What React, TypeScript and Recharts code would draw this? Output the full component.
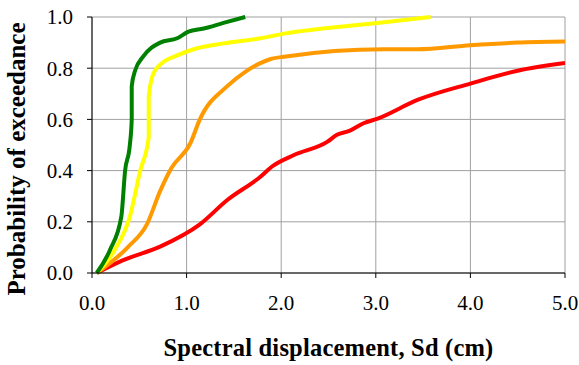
import React from "react";
import { LineChart, Line, XAxis, YAxis, CartesianGrid } from "recharts";

const xTicks = [0, 1, 2, 3, 4, 5];
const yTicks = [0, 0.2, 0.4, 0.6, 0.8, 1.0];

const slight = [
  { x: 0.05, y: 0 }, { x: 0.19, y: 0.09 }, { x: 0.31, y: 0.22 }, { x: 0.35, y: 0.4 },
  { x: 0.4, y: 0.5 }, { x: 0.42, y: 0.6 }, { x: 0.42, y: 0.73 }, { x: 0.455, y: 0.79 },
  { x: 0.54, y: 0.845 }, { x: 0.72, y: 0.9 }, { x: 0.9, y: 0.917 }, { x: 1.02, y: 0.943 },
  { x: 1.18, y: 0.955 }, { x: 1.39, y: 0.977 }, { x: 1.62, y: 1.0 }
];

const moderate = [
  { x: 0.05, y: 0 }, { x: 0.24, y: 0.09 }, { x: 0.4, y: 0.22 }, { x: 0.51, y: 0.4 },
  { x: 0.6, y: 0.53 }, { x: 0.6, y: 0.69 }, { x: 0.65, y: 0.78 }, { x: 0.74, y: 0.82 },
  { x: 0.9, y: 0.85 }, { x: 1.11, y: 0.878 }, { x: 1.39, y: 0.897 }, { x: 1.78, y: 0.917 },
  { x: 2.03, y: 0.935 }, { x: 3.02, y: 0.977 }, { x: 3.58, y: 1.0 }
];

const extensive = [
  { x: 0.05, y: 0 }, { x: 0.385, y: 0.103 }, { x: 0.58, y: 0.19 }, { x: 0.72, y: 0.32 },
  { x: 0.84, y: 0.41 }, { x: 1.04, y: 0.507 }, { x: 1.14, y: 0.6 }, { x: 1.43, y: 0.73 },
  { x: 1.62, y: 0.786 }, { x: 1.78, y: 0.82 }, { x: 1.89, y: 0.836 }, { x: 2.03, y: 0.845 },
  { x: 3.09, y: 0.874 }, { x: 3.44, y: 0.874 }, { x: 4.0, y: 0.89 }, { x: 4.5, y: 0.9 },
  { x: 5.0, y: 0.904 }
];

const complete = [
  { x: 0.05, y: 0 }, { x: 0.33, y: 0.05 }, { x: 0.72, y: 0.103 }, { x: 1.14, y: 0.19 },
  { x: 1.43, y: 0.285 }, { x: 1.78, y: 0.376 }, { x: 1.9, y: 0.415 }, { x: 2.13, y: 0.46 },
  { x: 2.49, y: 0.513 }, { x: 2.59, y: 0.54 }, { x: 2.72, y: 0.555 }, { x: 2.87, y: 0.585 },
  { x: 3.02, y: 0.603 }, { x: 3.44, y: 0.676 }, { x: 4.0, y: 0.74 }, { x: 4.5, y: 0.79 },
  { x: 5.0, y: 0.82 }
];

const font = "Liberation Serif";

const XTick = (props: any) => (
  <text x={props.x} y={props.y} dy="0.71em" textAnchor="middle" fontFamily={font} fontSize={21} fill="#000">
    {Number(props.payload.value).toFixed(1)}
  </text>
);

const YTick = (props: any) => (
  <text x={props.x} y={props.y} dy="0.355em" textAnchor="end" fontFamily={font} fontSize={21} fill="#000">
    {Number(props.payload.value).toFixed(1)}
  </text>
);

const XTitle = (props: any) => {
  const vb = props.viewBox || { x: 92, y: 273, width: 473, height: 92 };
  return (
    <text x={vb.x + vb.width / 2} y={vb.y + vb.height - 9} textAnchor="middle" fontFamily={font} fontSize={24.5} fontWeight="bold" letterSpacing={0.2} fill="#000">
      Spectral displacement, Sd (cm)
    </text>
  );
};

const YTitle = (props: any) => {
  const vb = props.viewBox || { x: 0, y: 17, width: 92, height: 256 };
  const cx = vb.x + 16;
  const cy = vb.y + vb.height / 2 + 14;
  return (
    <text x={cx} y={cy} dy="0.355em" transform={`rotate(-90, ${cx}, ${cy})`} textAnchor="middle" fontFamily={font} fontSize={25} fontWeight="bold" fill="#000">
      Probability of exceedance
    </text>
  );
};

export default function App() {
  return (
    <div style={{ position: "absolute", left: 0, top: 0 }}>
      <LineChart width={579} height={365} margin={{ top: 17, right: 14, left: 0, bottom: 0 }}>
        <CartesianGrid stroke="#a0a0a0" strokeWidth={1} />
        <XAxis
          dataKey="x"
          type="number"
          domain={[0, 5]}
          ticks={xTicks}
          allowDataOverflow
          height={92}
          stroke="#000"
          tickSize={5}
          tickMargin={17}
          tick={XTick}
          label={{ content: XTitle }}
        />
        <YAxis
          dataKey="y"
          type="number"
          domain={[0, 1]}
          ticks={yTicks}
          width={92}
          stroke="#000"
          tickSize={5}
          tickMargin={14}
          tick={YTick}
          label={{ content: YTitle }}
        />
        <Line data={complete} dataKey="y" type="monotone" stroke="#ff0000" strokeWidth={4} dot={false} isAnimationActive={false} />
        <Line data={extensive} dataKey="y" type="monotone" stroke="#ff9900" strokeWidth={4} dot={false} isAnimationActive={false} />
        <Line data={moderate} dataKey="y" type="monotone" stroke="#ffff00" strokeWidth={4} dot={false} isAnimationActive={false} />
        <Line data={slight} dataKey="y" type="monotone" stroke="#008000" strokeWidth={4} dot={false} isAnimationActive={false} />
      </LineChart>
    </div>
  );
}
